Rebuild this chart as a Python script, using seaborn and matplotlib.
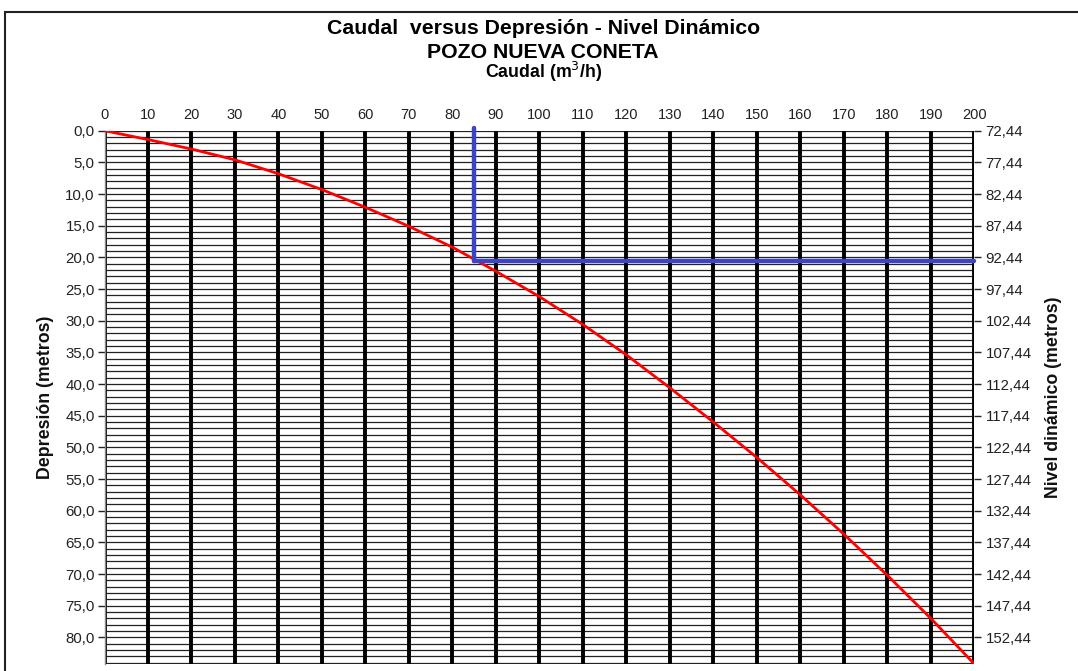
import matplotlib
matplotlib.use('Agg')
import matplotlib.pyplot as plt
from matplotlib.patches import Rectangle
import seaborn as sns
import pandas as pd

# curva caudal vs depresion
caudal = [0, 10, 20, 30, 40, 50, 60, 70, 80, 90, 100, 110, 120, 130, 140, 150, 160, 170, 180, 190, 200]
depresion = [0.0, 1.4, 2.9, 4.6, 6.8, 9.3, 12.1, 15.1, 18.4, 22.2, 26.2, 30.6, 35.4, 40.6, 46.0, 51.6, 57.5, 63.7, 70.2, 77.0, 84.2]

# punto de operacion
caudal_op = 85
depresion_op = 20.6

nivel_estatico = 72.44
y_max = 84.2
x_ticks = list(range(0, 201, 10))
y_ticks = list(range(0, 81, 5))

df = pd.DataFrame({'Caudal': caudal, 'Depresion': depresion})

sns.set_style('white')
plt.rcParams['font.family'] = ['Liberation Sans', 'DejaVu Sans']

fig = plt.figure(figsize=(10.78, 6.71), dpi=100)
ax = fig.add_axes([104.5 / 1078, 1 - 664 / 671, (974.3 - 104.5) / 1078, (664 - 130.7) / 671])

# grilla
for v in range(0, 85):
    ax.axhline(v, color='#222222', lw=0.9, zorder=1)
for v in x_ticks:
    ax.axvline(v, color='black', lw=2.8, zorder=2)

sns.lineplot(data=df, x='Caudal', y='Depresion', color='red', lw=2, ax=ax, zorder=4)

ax.plot([caudal_op, caudal_op], [-0.4, depresion_op], color='#3b44c4', lw=3.2, zorder=5, clip_on=False)
ax.plot([caudal_op, 200], [depresion_op, depresion_op], color='#3b44c4', lw=3.2, zorder=5, clip_on=False)

ax.set_xlim(0, 200)
ax.set_ylim(y_max, 0)
ax.xaxis.tick_top()
ax.set_xticks(x_ticks)
ax.set_xticklabels([str(v) for v in x_ticks])
ax.tick_params(axis='x', top=True, length=0, pad=6, labelsize=10.5, colors='#222222')
ax.set_yticks(y_ticks)
ax.set_yticklabels([f"{v:.1f}".replace('.', ',') for v in y_ticks])
ax.tick_params(axis='y', left=True, length=5, width=1, pad=2, labelsize=10.8, colors='#222222')
ax.set_xlabel('')
ax.set_ylabel('Depresión (metros)', fontsize=12.8, fontweight='bold', labelpad=8, color='#111111')
for s in ['top', 'right', 'bottom']:
    ax.spines[s].set_visible(False)
ax.spines['left'].set_color('#888888')
ax.spines['left'].set_linewidth(1)

ax2 = ax.twinx()
ax2.set_ylim(y_max, 0)
ax2.set_yticks(y_ticks)
ax2.set_yticklabels([f"{v + nivel_estatico:.2f}".replace('.', ',') for v in y_ticks])
ax2.tick_params(axis='y', right=True, length=5, width=1, pad=3, labelsize=10.8, colors='#222222')
ax2.set_ylabel('Nivel dinámico (metros)', fontsize=12.8, fontweight='bold', labelpad=10, color='#111111')
for s in ['top', 'left', 'bottom', 'right']:
    ax2.spines[s].set_visible(False)

fig.text(0.504, 1 - 28 / 671, 'Caudal  versus Depresión - Nivel Dinámico', ha='center', va='center',
         fontsize=15.3, fontweight='bold', color='black')
fig.text(0.504, 1 - 52 / 671, 'POZO NUEVA CONETA', ha='center', va='center',
         fontsize=15.3, fontweight='bold', color='black')
fig.text(0.504, 1 - 72 / 671, 'Caudal (m$^3$/h)', ha='center', va='center',
         fontsize=12.8, fontweight='bold', color='black')

fig.add_artist(Rectangle((5 / 1078, -0.1), 1.2, 1.1 - 12 / 671, transform=fig.transFigure,
                         fill=False, edgecolor='#222222', lw=1.5))

fig.savefig('out.png', dpi=100)
